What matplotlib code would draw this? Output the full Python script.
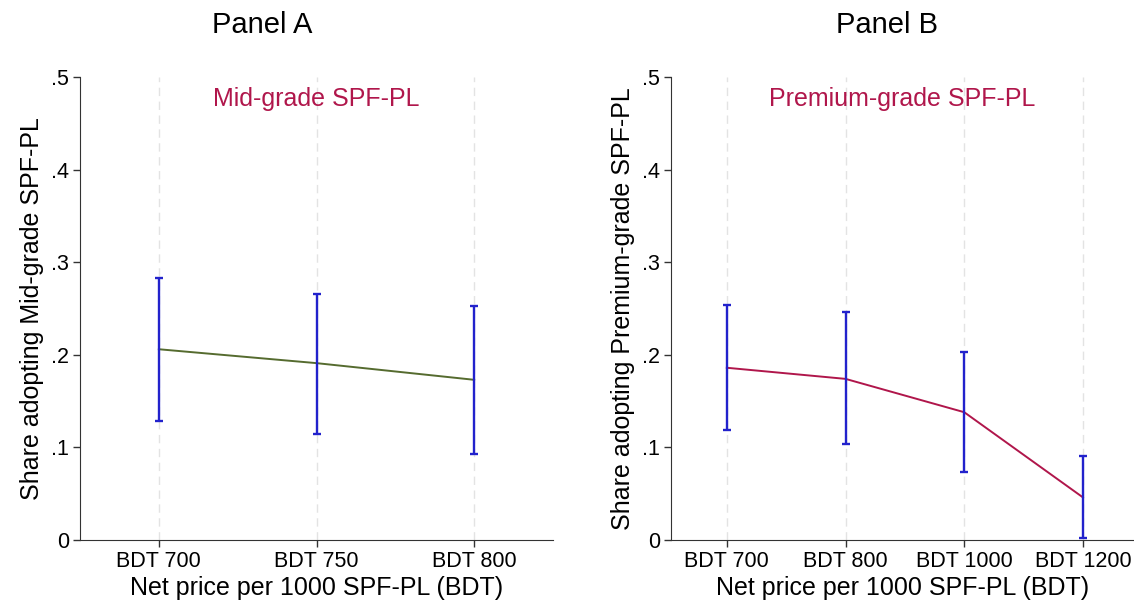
import matplotlib
matplotlib.use("Agg")
import matplotlib.pyplot as plt

plt.rcParams['font.family'] = ['Liberation Sans', 'DejaVu Sans']

# Panel A data
a_labels = ["BDT 700", "BDT 750", "BDT 800"]
a_mean = [0.206, 0.191, 0.173]
a_lo = [0.129, 0.115, 0.093]
a_hi = [0.283, 0.266, 0.253]

# Panel B data
b_labels = ["BDT 700", "BDT 800", "BDT 1000", "BDT 1200"]
b_mean = [0.186, 0.174, 0.138, 0.046]
b_lo = [0.119, 0.104, 0.073, 0.002]
b_hi = [0.254, 0.246, 0.203, 0.091]

y_ticks = [0, 0.1, 0.2, 0.3, 0.4, 0.5]
y_ticklabels = ["0", ".1", ".2", ".3", ".4", ".5"]

blue = "#2222CC"
green = "#556B2F"
crimson = "#B0164B"

W, H = 1134, 609
fig = plt.figure(figsize=(W / 100, H / 100), dpi=100)

def px_axes(x0, x1, y0, y1):
    return fig.add_axes([x0 / W, 1 - y1 / H, (x1 - x0) / W, (y1 - y0) / H])

axA = px_axes(80, 553, 77, 540)
axB = px_axes(671, 1134, 77, 540)

def draw(ax, labels, mean, lo, hi, line_color, subtitle, ylabel, xlim):
    x = list(range(len(labels)))
    for xi in x:
        ax.axvline(xi, color="#e3e3e3", lw=1.0, ls=(0, (6, 4)), zorder=0)
    ax.plot(x, mean, color=line_color, lw=1.4, zorder=2)
    err_lo = [m - l for m, l in zip(mean, lo)]
    err_hi = [h - m for m, h in zip(mean, hi)]
    ax.errorbar(x, mean, yerr=[err_lo, err_hi], fmt="none", ecolor=blue,
                elinewidth=1.7, capsize=3, capthick=1.7, zorder=3)
    ax.set_xlim(*xlim)
    ax.set_ylim(0, 0.5)
    ax.set_xticks(x)
    ax.set_xticklabels(labels, fontsize=15.5)
    ax.set_yticks(y_ticks)
    ax.set_yticklabels(y_ticklabels, fontsize=15.5)
    ax.spines["top"].set_visible(False)
    ax.spines["right"].set_visible(False)
    ax.spines["left"].set_color("#333333")
    ax.spines["bottom"].set_color("#333333")
    ax.tick_params(axis="both", length=5, width=1, color="#333333", pad=3)
    ax.set_xlabel("Net price per 1000 SPF-PL (BDT)", fontsize=18, labelpad=3)
    ax.set_ylabel(ylabel, fontsize=18, labelpad=5)
    ax.text(0.5, 0.953, subtitle, transform=ax.transAxes, ha="center",
            va="center", color=crimson, fontsize=18)

draw(axA, a_labels, a_mean, a_lo, a_hi, green, "Mid-grade SPF-PL",
     "Share adopting Mid-grade SPF-PL", (-0.5, 2.5))
draw(axB, b_labels, b_mean, b_lo, b_hi, crimson, "Premium-grade SPF-PL",
     "Share adopting Premium-grade SPF-PL", (-0.47, 3.43))

fig.text(262 / W, 1 - 25 / H, "Panel A", ha="center", va="center", fontsize=21)
fig.text(887 / W, 1 - 25 / H, "Panel B", ha="center", va="center", fontsize=21)

fig.savefig("out.png", dpi=100, facecolor="white")
